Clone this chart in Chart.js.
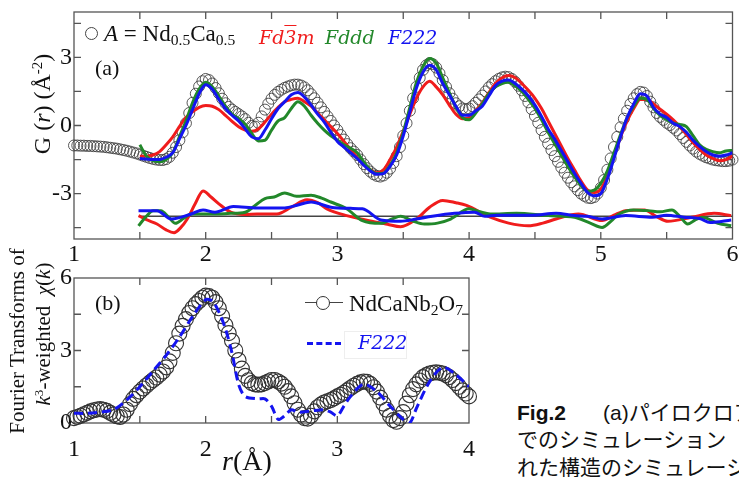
<!DOCTYPE html>
<html>
<head>
<meta charset="utf-8">
<script src="https://cdn.jsdelivr.net/npm/chart.js@4.4.0/dist/chart.umd.min.js"></script>
<style>
  body { margin: 0; background: #fff; }
  #wrap { position: relative; width: 739px; height: 477px; overflow: hidden; background: #fff; }
  canvas { position: absolute; }
  .t { position: absolute; white-space: nowrap; line-height: 1; font-family: 'Liberation Serif', serif; color: #111; }
  .sym { font-family: 'DejaVu Serif', serif; font-style: italic; font-size: 19px; }
  sub { font-size: 0.68em; vertical-align: -0.28em; line-height: 0; }
  sup { font-size: 0.62em; vertical-align: 0.55em; line-height: 0; }
  .rot { transform: rotate(-90deg); text-align: center; }
  .cap { position: absolute; left: 517px; white-space: nowrap; font-family: 'Liberation Sans', 'Noto Sans CJK JP', sans-serif; font-size: 21px; line-height: 1; color: #111; }
</style>
</head>
<body>
<div id="wrap">
  <canvas id="chartA" width="739" height="262" style="left:0;top:0"></canvas>
  <canvas id="chartB" width="480" height="222" style="left:0;top:255px"></canvas>

  <!-- panel (a) annotations -->
  <div style="position:absolute;left:85px;top:27px;width:11px;height:11px;border:1.2px solid #444;border-radius:50%"></div>
  <div class="t" style="left:104px;top:22px;font-size:23px"><i>A</i> = Nd<sub>0.5</sub>Ca<sub>0.5</sub></div>
  <div class="t sym" style="left:259px;top:28px;color:#f01c1c">Fd<span style="text-decoration:overline">3</span>m</div>
  <div class="t sym" style="left:325px;top:28px;color:#22882a">Fddd</div>
  <div class="t sym" style="left:388px;top:28px;color:#1414f0">F222</div>
  <div class="t" style="left:95px;top:57px;font-size:22px">(a)</div>
  <div class="t rot" style="left:-47px;top:91px;width:180px;height:26px;font-size:24px">G (<i>r</i>) (Å<sup>-2</sup>)</div>

  <!-- panel (b) annotations -->
  <div class="t" style="left:95px;top:292px;font-size:22px">(b)</div>
  <div style="position:absolute;left:305px;top:302px;width:38px;height:0;border-top:1px solid #444"></div>
  <div style="position:absolute;left:316px;top:296px;width:12px;height:12px;border:1.2px solid #333;border-radius:50%;background:#fff"></div>
  <div class="t" style="left:349px;top:292px;font-size:23px">NdCaNb<sub>2</sub>O<sub>7</sub></div>
  <div style="position:absolute;left:344px;top:331px;width:61px;height:26px;border:1px solid #eee"></div>
  <div style="position:absolute;left:307px;top:342px;width:34px;height:0;border-top:3px dashed #1414f0"></div>
  <div class="t sym" style="left:358px;top:333px;color:#1414f0">F222</div>
  <div class="t rot" style="left:-82px;top:330px;width:200px;height:22px;font-size:21px">Fourier Transforms of</div>
  <div class="t rot" style="left:-56px;top:323px;width:200px;height:22px;font-size:21px"><i>k</i><sup>3</sup>-weighted &nbsp;<i>χ</i>(<i>k</i>)</div>
  <div class="t" style="left:222px;top:447px;font-size:28px"><i>r</i>(Å)</div>

  <!-- caption -->
  <div class="cap" style="top:402px"><b style="display:inline-block;width:86px">Fig.2</b>(a)パイロクロア</div>
  <div class="cap" style="top:429px">でのシミュレーション</div>
  <div class="cap" style="top:457px">れた構造のシミュレーション</div>
</div>

<script>
// (a) PDF data: open circles, r = 1.0 .. 6.0 every 0.025
const rStartA = 1.0, rStepA = 0.025;
const gObs = [
  -0.88,-0.88,-0.89,-0.89,-0.90,-0.90,-0.91,-0.92,-0.93,-0.94,
  -0.96,-0.98,-1.00,-1.02,-1.05,-1.08,-1.11,-1.15,-1.19,-1.23,
  -1.28,-1.33,-1.38,-1.43,-1.47,-1.50,-1.52,-1.52,-1.48,-1.38,
  -1.20,-0.95,-0.65,-0.30,0.10,0.55,1.00,1.40,1.72,1.95,
  2.05,2.00,1.85,1.65,1.42,1.18,0.98,0.82,0.70,0.60,
  0.50,0.40,0.28,0.12,-0.02,-0.05,0.12,0.40,0.70,0.96,
  1.18,1.35,1.48,1.58,1.66,1.72,1.77,1.80,1.80,1.76,
  1.68,1.55,1.38,1.20,1.00,0.80,0.60,0.40,0.20,0.00,
  -0.20,-0.42,-0.62,-0.82,-1.00,-1.15,-1.30,-1.50,-1.70,-1.88,
  -2.03,-2.15,-2.22,-2.25,-2.20,-2.08,-1.90,-1.65,-1.35,-0.95,
  -0.45,0.10,0.65,1.20,1.70,2.10,2.45,2.65,2.75,2.70,
  2.55,2.30,2.00,1.70,1.42,1.18,0.98,0.85,0.75,0.72,
  0.75,0.85,1.00,1.15,1.32,1.50,1.68,1.82,1.95,2.05,
  2.12,2.15,2.13,2.05,1.92,1.75,1.55,1.30,1.02,0.72,
  0.42,0.12,-0.20,-0.50,-0.80,-1.08,-1.35,-1.60,-1.85,-2.08,
  -2.30,-2.50,-2.68,-2.85,-3.00,-3.10,-3.18,-3.20,-3.15,-3.00,
  -2.75,-2.40,-1.95,-1.45,-0.95,-0.50,-0.08,0.30,0.65,0.95,
  1.20,1.38,1.48,1.45,1.30,1.05,0.80,0.55,0.38,0.25,
  0.12,0.02,-0.10,-0.22,-0.38,-0.55,-0.72,-0.88,-1.02,-1.15,
  -1.25,-1.33,-1.40,-1.45,-1.50,-1.53,-1.55,-1.57,-1.57,-1.55,
  -1.50
];

// (a) simulations, r = 1.5 .. 6.0 every 0.05
const rStartFit = 1.5, rStepFit = 0.05;
const gFd3m = [
  -1.35,-1.35,-1.30,-1.15,-0.85,-0.50,-0.05,0.35,0.60,0.80,
  0.88,0.85,0.70,0.45,0.18,-0.05,-0.20,-0.25,-0.15,0.15,
  0.50,0.80,1.05,1.15,1.20,1.05,0.85,0.55,0.25,-0.05,
  -0.35,-0.70,-1.05,-1.40,-1.70,-1.95,-2.08,-1.95,-1.50,-0.95,
  -0.25,0.50,1.20,1.70,1.95,1.70,1.35,0.90,0.50,0.30,
  0.35,0.65,1.00,1.45,1.85,2.10,2.20,2.10,1.85,1.55,
  1.20,0.75,0.20,-0.35,-0.90,-1.45,-1.95,-2.45,-2.85,-2.95,
  -2.80,-2.20,-1.35,-0.50,0.20,0.75,1.15,1.15,0.95,0.72,
  0.50,0.25,-0.05,-0.40,-0.75,-1.05,-1.30,-1.45,-1.55,-1.50,
  -1.35
];
const gFddd = [
  -0.85,-1.35,-1.55,-1.60,-1.50,-1.20,-0.50,0.20,1.00,1.60,
  1.90,1.70,1.30,0.85,0.50,0.30,0.05,-0.35,-0.68,-0.65,
  -0.20,0.20,0.35,0.75,1.05,0.85,0.45,0.10,-0.20,-0.45,
  -0.65,-0.85,-1.00,-1.20,-1.60,-1.95,-2.12,-2.10,-1.75,-1.20,
  -0.30,0.80,1.90,2.60,2.95,2.75,2.10,1.45,0.80,0.35,
  0.25,0.55,0.95,1.40,1.70,1.85,1.90,1.75,1.50,1.15,
  0.75,0.25,-0.30,-0.80,-1.30,-1.80,-2.25,-2.65,-2.90,-2.85,
  -2.55,-2.00,-1.20,-0.40,0.35,0.85,1.20,1.15,0.75,0.45,
  0.25,0.10,0.05,-0.05,-0.45,-0.85,-1.05,-1.15,-1.20,-1.12,
  -1.10
];
const gF222 = [
  -1.45,-1.48,-1.50,-1.50,-1.40,-1.20,-0.60,0.00,0.70,1.40,
  1.80,1.60,1.15,0.75,0.45,0.20,-0.15,-0.50,-0.58,-0.20,
  0.30,0.75,1.05,1.35,1.45,1.25,0.90,0.50,0.15,-0.30,
  -0.70,-0.95,-1.20,-1.45,-1.75,-2.00,-2.15,-2.12,-1.80,-1.30,
  -0.45,0.60,1.65,2.35,2.65,2.45,1.85,1.35,0.85,0.45,
  0.45,0.65,0.85,1.30,1.75,1.95,2.00,1.85,1.60,1.30,
  0.90,0.40,-0.15,-0.60,-1.10,-1.60,-2.10,-2.55,-2.95,-3.10,
  -3.00,-2.35,-1.45,-0.50,0.35,0.95,1.40,1.30,0.80,0.50,
  0.35,0.10,-0.05,-0.30,-0.65,-0.92,-1.15,-1.30,-1.35,-1.30,
  -1.20
];

// (a) differences, drawn around G = -4
const diffOffset = -4;
const rBase = [1.5, 6.0];
const rDiffFd3m = [1.49,1.55,1.63,1.70,1.76,1.81,1.86,1.92,1.98,2.04,2.10,2.19,2.30,2.39,2.54,2.65,2.77,2.85,2.92,3.07,3.24,3.38,3.48,3.60,3.70,3.80,3.90,3.98,4.16,4.30,4.45,4.56,4.66,4.83,5.01,5.10,5.19,5.33,5.42,5.51,5.69,5.86,5.99];
const dFd3m     = [0.03,-0.15,-0.34,-0.60,-0.72,-0.50,-0.12,0.55,1.12,0.85,0.55,0.18,0.08,0.10,0.10,0.40,0.73,0.60,0.33,0.03,-0.19,-0.35,-0.46,-0.12,0.40,0.70,0.60,0.48,-0.04,-0.30,-0.42,-0.30,-0.12,0.10,-0.19,0.05,0.25,0.28,0.00,-0.22,-0.04,0.13,0.03];
const rDiffFddd = [1.49,1.55,1.60,1.66,1.72,1.77,1.83,1.89,2.07,2.19,2.30,2.38,2.45,2.52,2.60,2.69,2.80,2.88,2.95,3.07,3.19,3.33,3.42,3.48,3.57,3.66,3.76,3.86,4.00,4.08,4.16,4.36,4.60,4.80,4.92,5.01,5.08,5.13,5.25,5.36,5.45,5.54,5.60,5.66,5.72,5.77,5.89,5.99];
const dFddd     = [-0.42,0.00,0.25,0.25,-0.05,-0.31,-0.10,0.10,0.10,0.13,0.18,0.50,0.78,0.85,1.03,0.88,0.93,0.80,0.63,0.33,-0.19,-0.31,-0.10,0.00,-0.20,-0.34,-0.30,-0.12,0.33,0.20,0.10,0.13,0.03,-0.04,-0.30,-0.49,-0.20,0.07,0.28,0.25,0.20,0.28,0.00,-0.34,-0.15,-0.04,-0.31,-0.42];
const rDiffF222 = [1.49,1.63,1.74,1.89,1.98,2.07,2.21,2.39,2.60,2.70,2.80,2.95,3.10,3.19,3.33,3.48,3.60,3.72,3.89,4.04,4.12,4.21,4.48,4.66,4.80,4.90,5.01,5.19,5.39,5.50,5.63,5.75,5.83,5.99];
const dF222     = [0.25,0.25,-0.12,0.10,0.28,0.18,0.43,0.37,0.37,0.50,0.63,0.40,0.35,0.33,-0.16,-0.22,-0.12,0.00,0.13,0.18,0.00,0.05,0.05,0.13,0.03,0.00,-0.12,0.03,-0.04,0.05,-0.04,-0.10,-0.27,-0.16];

// (b) Fourier transforms, circles r = 1.0 .. 4.0 every 0.025
const rStartB = 1.0, rStepB = 0.025;
const ftObs = [
  0.20,0.25,0.30,0.36,0.42,0.48,0.53,0.56,0.58,0.55,
  0.50,0.42,0.35,0.28,0.25,0.35,0.55,0.78,1.00,1.15,
  1.30,1.43,1.55,1.67,1.78,1.88,2.00,2.13,2.30,2.55,
  2.90,3.30,3.70,4.02,4.30,4.55,4.75,4.92,5.05,5.18,
  5.27,5.25,5.18,5.00,4.75,4.42,4.05,3.72,3.40,3.00,
  2.60,2.25,1.95,1.77,1.65,1.60,1.58,1.60,1.65,1.72,
  1.78,1.78,1.72,1.63,1.50,1.32,1.10,0.82,0.55,0.35,
  0.20,0.18,0.30,0.48,0.65,0.76,0.85,0.90,0.95,1.02,
  1.10,1.17,1.25,1.35,1.45,1.54,1.62,1.68,1.72,1.70,
  1.62,1.48,1.30,1.05,0.80,0.55,0.30,0.12,0.05,0.20,
  0.45,0.80,1.15,1.40,1.60,1.76,1.90,1.98,2.05,2.08,
  2.10,2.08,2.05,1.98,1.90,1.78,1.65,1.50,1.35,1.22,
  1.10
];
const rF222b = [1.0,1.1,1.2,1.3,1.4,1.5,1.6,1.7,1.8,1.9,2.0,2.05,2.1,2.15,2.2,2.25,2.3,2.4,2.45,2.5,2.55,2.6,2.65,2.7,2.8,2.9,2.95,3.0,3.05,3.1,3.2,3.3,3.4,3.5,3.55,3.6,3.7,3.8,3.9,4.0];
const ftF222 = [0.40,0.40,0.45,0.55,0.95,1.50,2.15,2.80,3.55,4.40,5.10,5.05,4.60,3.90,2.90,1.60,1.10,1.00,1.00,0.70,0.15,0.30,0.55,0.45,0.50,0.55,0.45,0.30,0.70,1.10,1.60,1.30,0.70,0.15,0.00,0.60,1.70,2.30,2.00,1.50];

// axes
const xLabelsA = [1, 2, 3, 4, 5, 6];
const yLabelsA = [-3, 0, 3];
const xTicksA = [1.5, 2, 2.5, 3, 3.5, 4, 4.5, 5, 5.5];
const yTicksA = [-4.5, -3, -1.5, 0, 1.5, 3, 4.5];
const xLabelsB = [1, 2, 3, 4];
const yLabelsB = [0, 3, 6];
const xTicksB = [1.5, 2, 2.5, 3, 3.5];
const yTicksB = [1.5, 3, 4.5];

const RED = '#f01c1c', GREEN = '#22882a', BLUE = '#1414f0';

function grid(start, step, ys) {
  return ys.map((y, i) => ({ x: +(start + i * step).toFixed(3), y }));
}
function pairs(xs, ys, off = 0) {
  return xs.map((x, i) => ({ x, y: ys[i] + off }));
}

// frame with inward ticks on all four sides
const framePlugin = {
  id: 'frame',
  beforeDatasetsDraw(chart, args, opts) {
    const { ctx, chartArea: a, scales: { x, y } } = chart;
    ctx.save();
    ctx.strokeStyle = '#555';
    ctx.lineWidth = 1.3;
    ctx.strokeRect(a.left, a.top, a.width, a.height);
    ctx.beginPath();
    opts.xTicks.forEach(v => {
      const px = x.getPixelForValue(v);
      ctx.moveTo(px, a.bottom); ctx.lineTo(px, a.bottom - 7);
      ctx.moveTo(px, a.top); ctx.lineTo(px, a.top + 7);
    });
    opts.yTicks.forEach(v => {
      const py = y.getPixelForValue(v);
      ctx.moveTo(a.left, py); ctx.lineTo(a.left + 7, py);
      ctx.moveTo(a.right, py); ctx.lineTo(a.right - 7, py);
    });
    ctx.stroke();
    ctx.restore();
  }
};

Chart.defaults.font.family = "'Liberation Serif', serif";
Chart.defaults.color = '#111';

function axes(xmin, xmax, ymin, ymax, xLabels, yLabels, xH, yW, xPad) {
  return {
    x: {
      type: 'linear', min: xmin, max: xmax,
      grid: { display: false, drawTicks: false }, border: { display: false },
      ticks: { font: { size: 24 }, padding: xPad, autoSkip: false, maxRotation: 0 },
      afterBuildTicks: s => { s.ticks = xLabels.map(v => ({ value: v })); },
      afterFit: s => { s.height = xH; s.paddingLeft = 0; s.paddingRight = 0; }
    },
    y: {
      min: ymin, max: ymax,
      grid: { display: false, drawTicks: false }, border: { display: false },
      ticks: { font: { size: 24 }, padding: 2, autoSkip: false },
      afterBuildTicks: s => { s.ticks = yLabels.map(v => ({ value: v })); },
      afterFit: s => { s.width = yW; s.paddingTop = 0; s.paddingBottom = 0; }
    }
  };
}

const lineDs = (data, color, order, extra = {}) => Object.assign({
  data, borderColor: color, borderWidth: 3, pointRadius: 0,
  cubicInterpolationMode: 'monotone', order
}, extra);

new Chart(document.getElementById('chartA'), {
  type: 'line',
  data: {
    datasets: [
      lineDs(grid(rStartFit, rStepFit, gF222), BLUE, 1),
      lineDs(grid(rStartFit, rStepFit, gFddd), GREEN, 2),
      lineDs(grid(rStartFit, rStepFit, gFd3m), RED, 3),
      lineDs(pairs(rDiffF222, dF222, diffOffset), BLUE, 4),
      lineDs(pairs(rDiffFddd, dFddd, diffOffset), GREEN, 5),
      lineDs(pairs(rDiffFd3m, dFd3m, diffOffset), RED, 6),
      lineDs(pairs(rBase, [0, 0], diffOffset), '#444', 7, { borderWidth: 1.5 }),
      {
        data: grid(rStartA, rStepA, gObs), showLine: false, order: 10, clip: false,
        pointStyle: 'circle', pointRadius: 5.5, borderWidth: 1,
        borderColor: 'rgba(60,60,60,0.85)', backgroundColor: 'rgba(255,255,255,0)'
      }
    ]
  },
  options: {
    responsive: false, animation: false,
    layout: { padding: { left: 0, right: 4, top: 12, bottom: 0 } },
    plugins: { legend: { display: false }, tooltip: { enabled: false },
      frame: { xTicks: xTicksA, yTicks: yTicksA } },
    scales: axes(1, 6, -5, 5, xLabelsA, yLabelsA, 23, 74, 1)
  },
  plugins: [framePlugin]
});

new Chart(document.getElementById('chartB'), {
  type: 'line',
  data: {
    datasets: [
      lineDs(pairs(rF222b, ftF222), BLUE, 1, { borderDash: [9, 5], cubicInterpolationMode: 'default', tension: 0.3 }),
      {
        data: grid(rStartB, rStepB, ftObs), showLine: false, order: 10, clip: false,
        pointStyle: 'circle', pointRadius: 7.5, borderWidth: 1.1,
        borderColor: '#333', backgroundColor: 'rgba(255,255,255,0)'
      }
    ]
  },
  options: {
    responsive: false, animation: false,
    layout: { padding: { left: 0, right: 11, top: 23, bottom: 0 } },
    plugins: { legend: { display: false }, tooltip: { enabled: false },
      frame: { xTicks: xTicksB, yTicks: yTicksB } },
    scales: axes(1, 4, 0, 6, xLabelsB, yLabelsB, 54, 74, 12)
  },
  plugins: [framePlugin]
});
</script>
</body>
</html>
